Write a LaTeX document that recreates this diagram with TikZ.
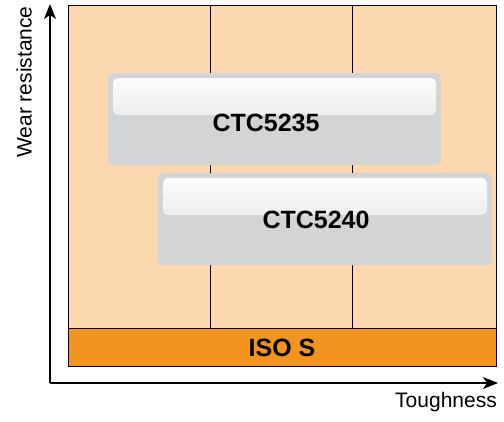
\documentclass[tikz,border=0pt]{standalone}
\usepackage{fontspec}
\setmainfont{Liberation Sans}
\usetikzlibrary{calc,arrows.meta}

\definecolor{peach}{RGB}{252,216,176}
\definecolor{isoorange}{RGB}{243,147,32}
\definecolor{boxgray}{RGB}{211,212,214}

\tikzset{
    gradebox/.style={fill=boxgray, rounded corners=6pt, inner sep=0pt,
        path picture={
            \shade[top color=white, middle color=white!45!boxgray, bottom color=boxgray!90!white, rounded corners=5pt]
                ($(path picture bounding box.north west)+(5,5)$) rectangle
                ($(path picture bounding box.north east)+(-5,42)$);
        }},
    gradelabel/.style={font=\bfseries\fontsize{25}{29}\selectfont, inner sep=0pt},
    axislabel/.style={font=\fontsize{21}{25}\selectfont, inner sep=0pt},
    axisarrow/.style={line width=1.5pt, -{Stealth[length=15pt, width=12pt, inset=4pt]}}
}

\begin{document}
\begin{tikzpicture}[x=1pt, y=-1pt]
    \useasboundingbox[fill=white] (0,0) rectangle (504,421);

    % Chart area with columns
    \fill[peach] (68,5) rectangle (496,328);
    \foreach \x in {210,352} {
        \draw[thin] (\x,5) -- (\x,328);
    }

    % ISO band
    \draw[fill=isoorange, thin] (68,328) rectangle (496,366);
    \node[gradelabel] (iso) at (282,348) {ISO S};
    \draw[thin] (68,5) rectangle (496,366);

    % Grades
    \node[gradebox, minimum width=333pt, minimum height=92pt] (box5235) at (274.5,119) {};
    \node[gradelabel] (ctc5235) at (266,123) {CTC5235};

    \node[gradebox, minimum width=334pt, minimum height=92pt] (box5240) at (325,219) {};
    \node[gradelabel] (ctc5240) at (316,220) {CTC5240};

    % Axes
    \coordinate (origin) at (50,383);
    \coordinate (ytip) at (50,4);
    \coordinate (xtip) at (498,383);
    \draw[axisarrow] (origin) -- (ytip);
    \draw[axisarrow] (origin) -- (xtip);
    \node[axislabel, anchor=south east] (xlab) at (497,412) {Toughness};
    \node[axislabel, rotate=90] (ylab) at (24,82) {Wear resistance};

\end{tikzpicture}
\end{document}
